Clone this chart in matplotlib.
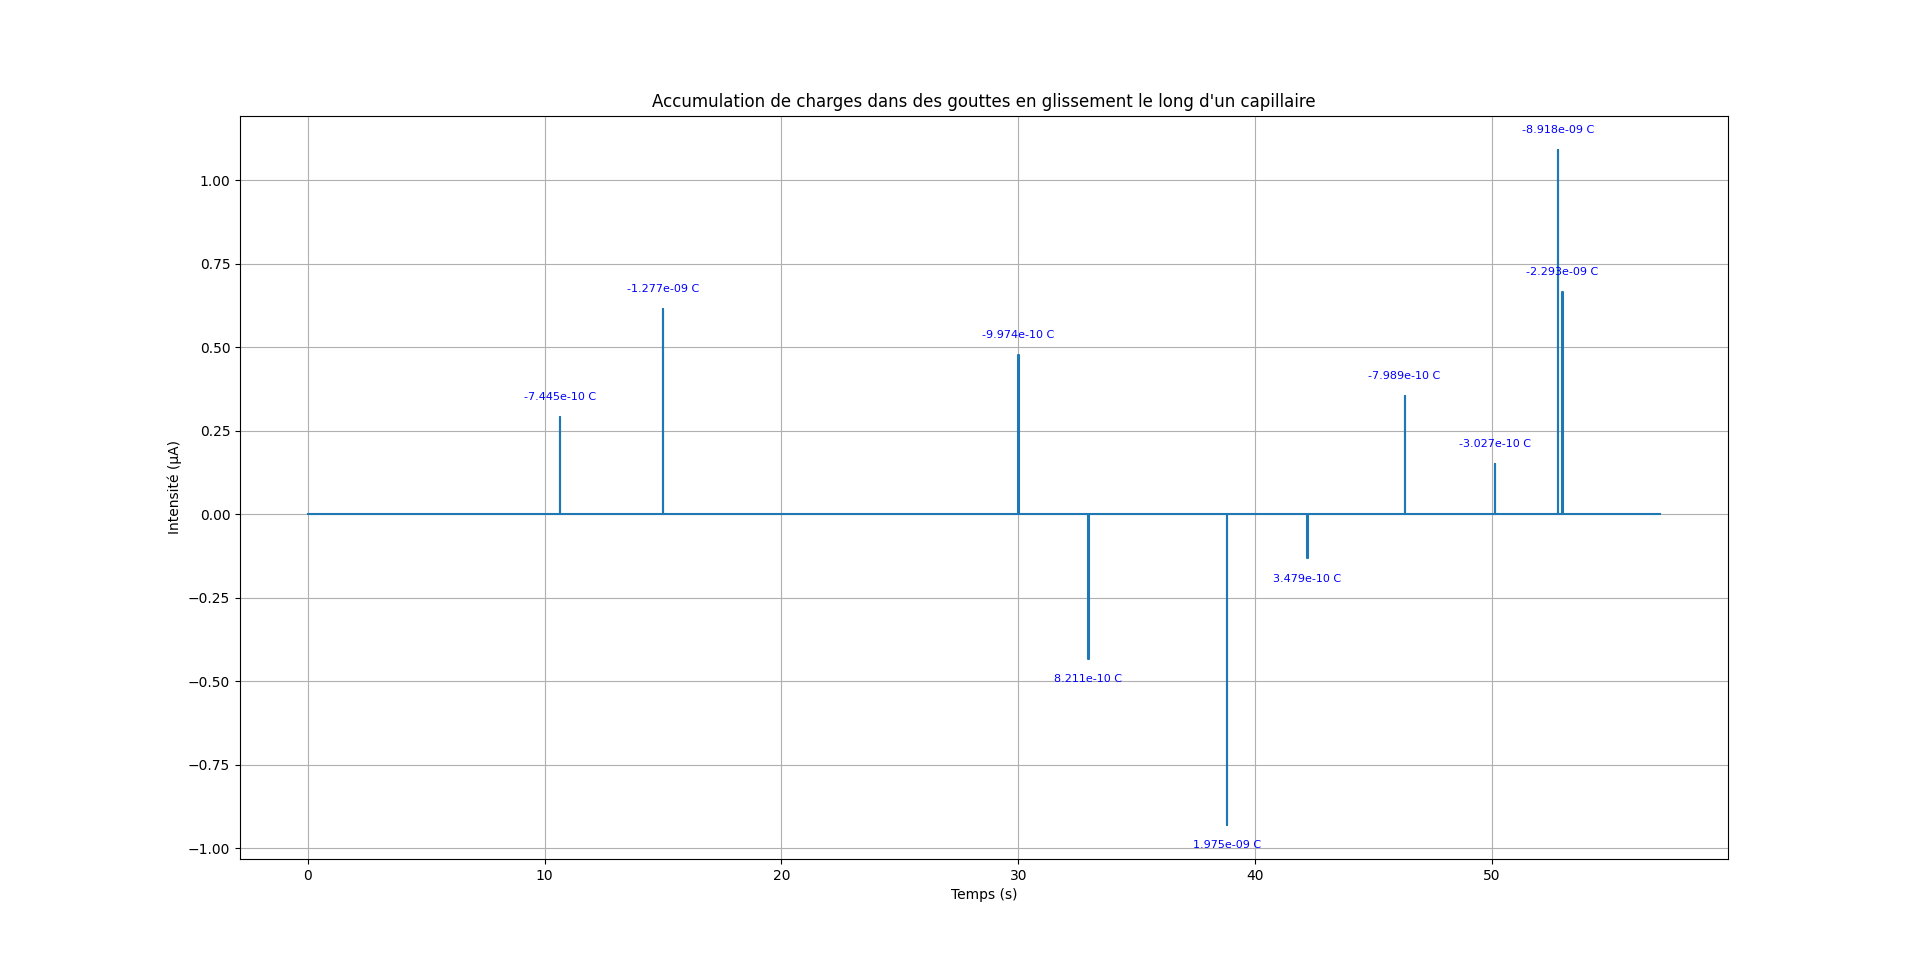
import matplotlib
matplotlib.use('Agg')
import matplotlib.pyplot as plt

# pics de courant (temps en s, intensite en uA)
spike_times = [10.65, 15.0, 30.0, 32.95, 38.8, 42.2, 46.3, 50.1, 52.77, 52.96]
spike_peaks = [0.292, 0.615, 0.476, -0.434, -0.930, -0.132, 0.354, 0.150, 1.092, 0.666]
charges = [-7.445e-10, -1.277e-09, -9.974e-10, 8.211e-10, 1.975e-09,
           3.479e-10, -7.989e-10, -3.027e-10, -8.918e-09, -2.293e-09]
t_start, t_end = 0.0, 57.1
pas = 0.02  # duree d'echantillonnage d'un pic

# construction du signal : ligne de base a zero + pics
temps = [t_start]
courant = [0.0]
for t, p in zip(spike_times, spike_peaks):
    temps += [t, t, t + pas, t + pas]
    courant += [0.0, p, p, 0.0]
temps.append(t_end)
courant.append(0.0)

fig, ax = plt.subplots(figsize=(19.2, 9.65), dpi=100)
ax.plot(temps, courant)

for t, p, q in zip(spike_times, spike_peaks, charges):
    dy = 0.06 if p > 0 else -0.06
    ax.text(t, p + dy, f"{q:.3e} C", color='blue', fontsize=8,
            ha='center', va='center')

ax.set_title("Accumulation de charges dans des gouttes en glissement le long d'un capillaire")
ax.set_xlabel("Temps (s)")
ax.set_ylabel("Intensité (µA)")
ax.grid(True)

fig.savefig('out.png', dpi=100)
